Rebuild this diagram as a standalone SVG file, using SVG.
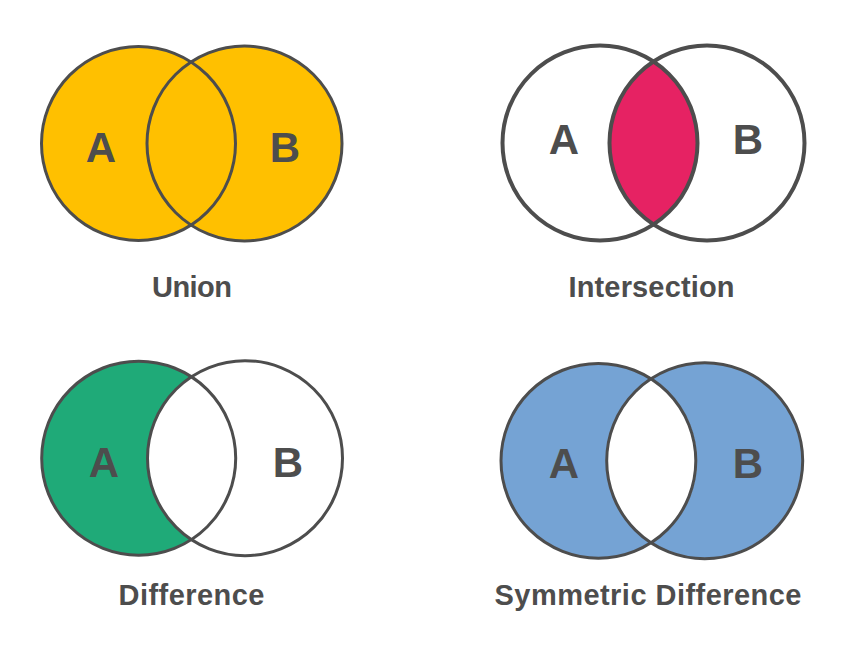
<svg xmlns="http://www.w3.org/2000/svg" width="843" height="654" viewBox="0 0 843 654">
  <style>
    .ring { fill: none; stroke: #4d4d4d; stroke-width: 3; }
    .ring4 { fill: none; stroke: #4d4d4d; stroke-width: 4; }
    .letter { font-family: "Liberation Sans", Arial, sans-serif; font-weight: bold; font-size: 42px; fill: #4d4d4d; text-anchor: middle; }
    .title { font-family: "Liberation Sans", Arial, sans-serif; font-weight: bold; font-size: 29px; fill: #4d4d4d; text-anchor: middle; }
  </style>
  <rect width="843" height="654" fill="#ffffff"/>

  <g id="union">
    <circle cx="138.5" cy="143.5" r="97" fill="#ffc000"/>
    <circle cx="244.5" cy="143.5" r="97.5" fill="#ffc000"/>
    <circle class="ring" cx="138.5" cy="143.5" r="97"/>
    <circle class="ring" cx="244.5" cy="143.5" r="97.5"/>
    <text class="letter" x="101" y="162">A</text>
    <text class="letter" x="285" y="162">B</text>
    <text class="title" x="192" y="297" textLength="80" lengthAdjust="spacing">Union</text>
  </g>

  <g id="intersection">
    <circle cx="600" cy="143" r="97.5" fill="#ffffff"/>
    <circle cx="707" cy="143" r="97.5" fill="#ffffff"/>
    <path d="M 653.5 61.5 A 97.5 97.5 0 0 1 653.5 224.5 A 97.5 97.5 0 0 1 653.5 61.5 Z" fill="#e62263"/>
    <circle class="ring4" cx="600" cy="143" r="97.5"/>
    <circle class="ring4" cx="707" cy="143" r="97.5"/>
    <text class="letter" x="564" y="154">A</text>
    <text class="letter" x="748" y="154">B</text>
    <text class="title" x="651.5" y="297" textLength="166" lengthAdjust="spacing">Intersection</text>
  </g>

  <g id="difference">
    <circle cx="138.7" cy="458.2" r="97" fill="#1faa78"/>
    <circle cx="245" cy="458.2" r="97.5" fill="#ffffff"/>
    <circle class="ring" cx="138.7" cy="458.2" r="97"/>
    <circle class="ring" cx="245" cy="458.2" r="97.5"/>
    <text class="letter" x="104" y="476.5">A</text>
    <text class="letter" x="288" y="476.5">B</text>
    <text class="title" x="191.5" y="605" textLength="146" lengthAdjust="spacing">Difference</text>
  </g>

  <g id="symmetric-difference">
    <circle cx="598.4" cy="460.8" r="97.4" fill="#75a3d4"/>
    <circle cx="704.7" cy="460.8" r="98" fill="#75a3d4"/>
    <path d="M 651.5 378.5 A 97.4 97.4 0 0 1 651.5 543.1 A 98 98 0 0 1 651.5 378.5 Z" fill="#ffffff"/>
    <circle class="ring" cx="598.4" cy="460.8" r="97.4"/>
    <circle class="ring" cx="704.7" cy="460.8" r="98"/>
    <text class="letter" x="564" y="478">A</text>
    <text class="letter" x="748" y="478">B</text>
    <text class="title" x="648" y="605" textLength="307" lengthAdjust="spacing">Symmetric Difference</text>
  </g>

  <g id="connectors"/>
</svg>
